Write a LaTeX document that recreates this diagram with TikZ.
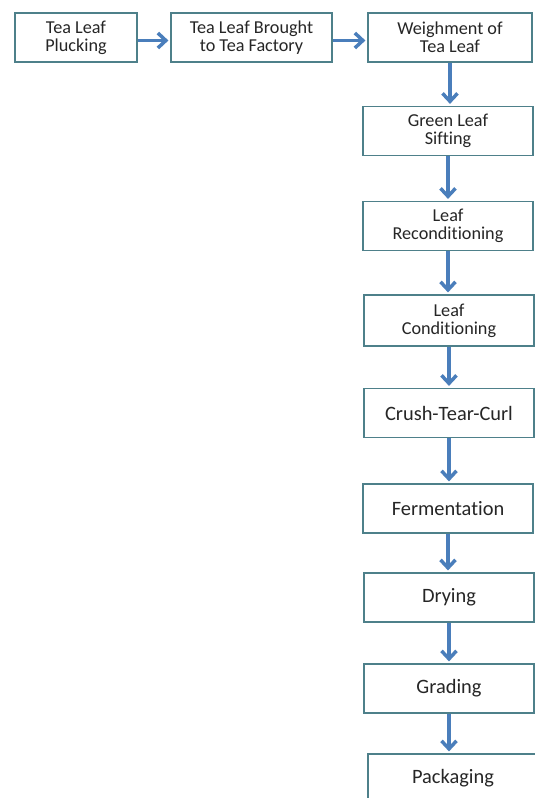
\documentclass[tikz,border=0pt]{standalone}
\usepackage{fontspec}
\setmainfont{Carlito}[Ligatures=NoCommon]
\usetikzlibrary{arrows.meta}
\definecolor{boxline}{RGB}{78,128,138}
\definecolor{flowblue}{RGB}{74,126,187}

\begin{document}
\begin{tikzpicture}[x=1pt, y=-1pt, arrows={-Straight Barb[length=8pt,width=15pt]},
	flow/.style={draw=flowblue, line width=3.5pt, shorten >=2pt},
	stage/.style={draw=boxline, line width=1.2pt, fill=white, text=black!85, align=center,
		minimum width=170pt, minimum height=49pt, inner sep=2pt, font=\fontsize{20.4}{21}\selectfont},
	twoline/.style={font=\fontsize{18.2}{18}\selectfont}]
	\useasboundingbox (0,0) rectangle (535,798);

	\node[stage, twoline, minimum width=122pt] (pluck) at (76,37.5) {Tea Leaf\\Plucking};
	\node[stage, twoline, minimum width=161pt] (bring) at (251.5,37.5) {Tea Leaf Brought\\to Tea Factory};
	\node[stage, twoline, minimum width=164pt] (weigh) at (450,37.5) {Weighment of\\Tea Leaf};
	\node[stage, twoline] (sift) at (448,131) {Green Leaf\\Sifting};
	\node[stage, twoline] (recond) at (448,226) {Leaf\\Reconditioning};
	\node[stage, twoline, minimum height=51pt] (cond) at (449,320.5) {Leaf\\Conditioning};
	\node[stage] (ctc) at (449,413) {Crush-Tear-Curl};
	\node[stage] (ferm) at (448,508.5) {Fermentation};
	\node[stage] (dry) at (449,597.5) {Drying};
	\node[stage] (grade) at (449,688.5) {Grading};
	\node[stage] (pack) at (453,778.5) {Packaging};

	\draw[flow] ([yshift=-3pt]pluck.east) -- ([yshift=-3pt]bring.west);
	\draw[flow] ([yshift=-3pt]bring.east) -- ([yshift=-3pt]weigh.west);
	\draw[flow] (weigh.south) -- (weigh.south |- sift.north);
	\draw[flow] (sift.south) -- (sift.south |- recond.north);
	\draw[flow] (recond.south) -- (recond.south |- cond.north);
	\draw[flow] (cond.south) -- (cond.south |- ctc.north);
	\draw[flow] (ctc.south) -- (ctc.south |- ferm.north);
	\draw[flow] (ferm.south) -- (ferm.south |- dry.north);
	\draw[flow] (dry.south) -- (dry.south |- grade.north);
	\draw[flow] (grade.south) -- (grade.south |- pack.north);
\end{tikzpicture}
\end{document}
